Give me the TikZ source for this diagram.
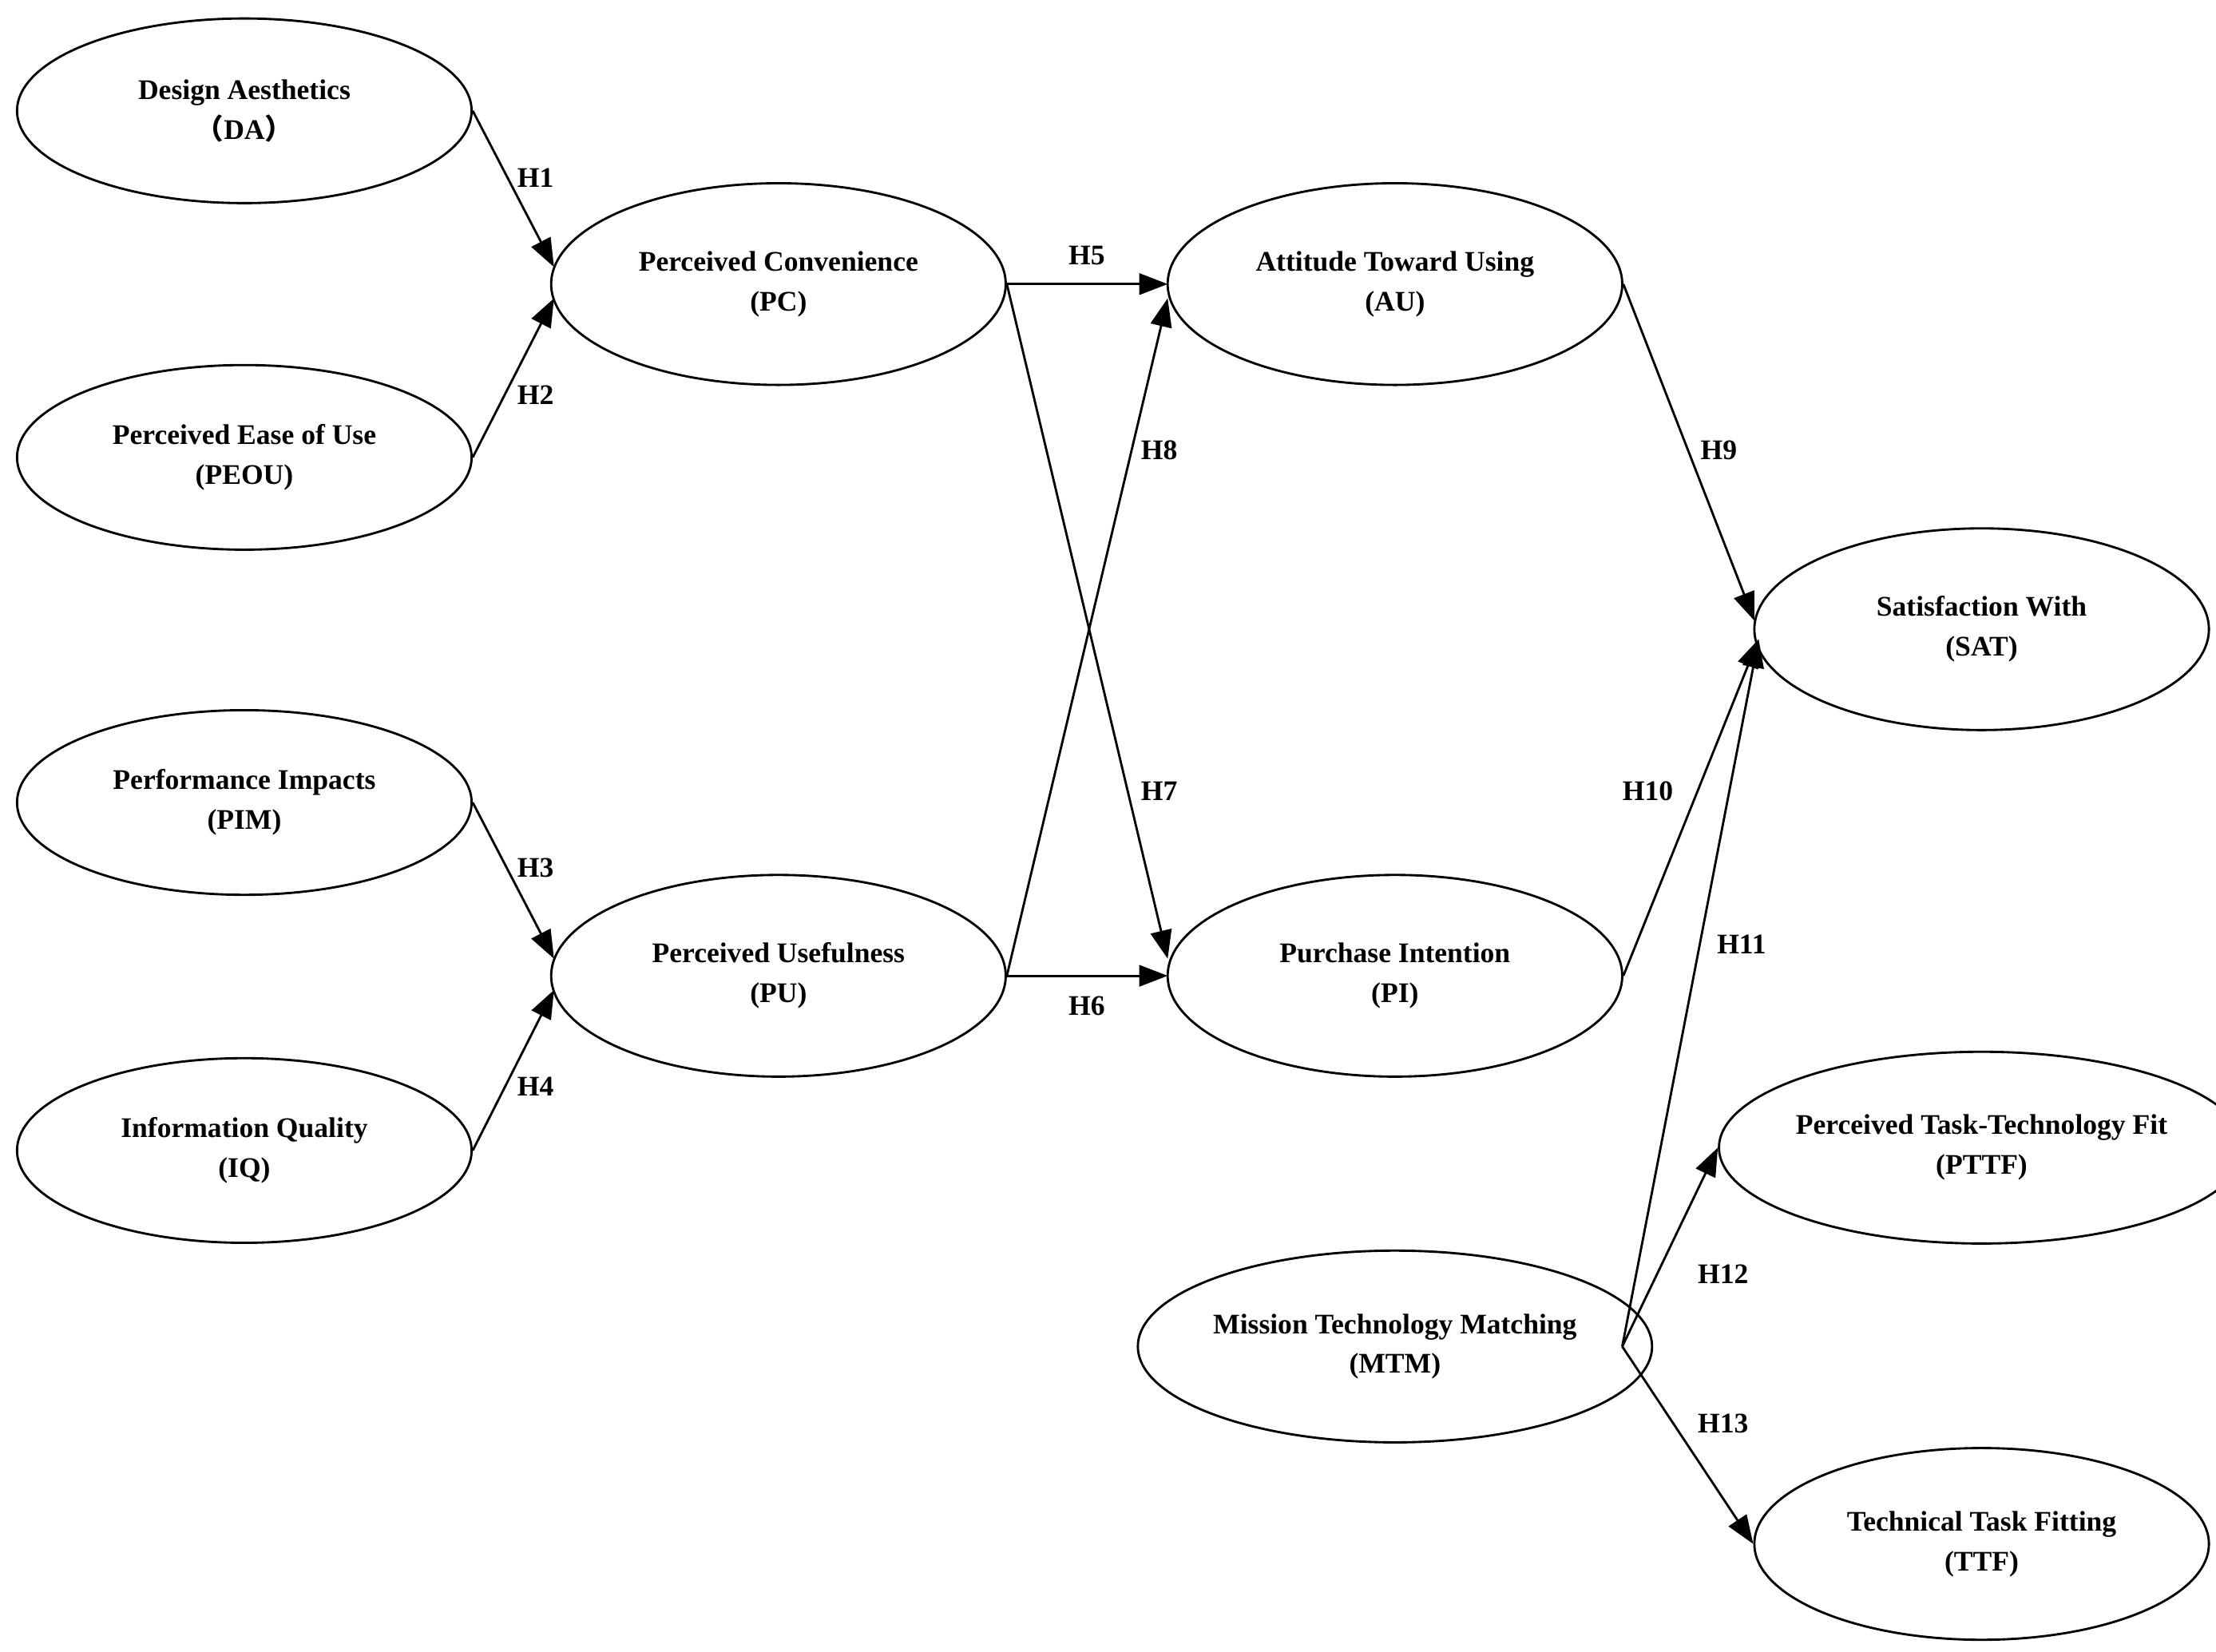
\documentclass[tikz,border=0pt]{standalone}
\usepackage{fontspec}
\setmainfont{Liberation Serif}
\newfontfamily\cjk{Noto Sans CJK SC}
\usetikzlibrary{shapes.geometric,arrows.meta}
\begin{document}
\begin{tikzpicture}[x=1pt,y=-1pt,
 e/.style={ellipse,draw,line width=1.6pt,minimum width=320pt,minimum height=130pt,align=center,font=\fontsize{20}{28}\selectfont\bfseries,inner sep=0pt},
 a/.style={line width=1.6pt,-{Triangle[length=20pt,width=15pt]}},
 l/.style={font=\fontsize{20}{24}\selectfont\bfseries}]
\useasboundingbox (0,0) rectangle (1560,1163);
\node[e] (da) at (172,78) {Design Aesthetics\\{\cjk （}DA{\cjk ）}};
\node[e] (peou) at (172,322) {Perceived Ease of Use\\(PEOU)};
\node[e] (pim) at (172,565) {Performance Impacts\\(PIM)};
\node[e] (iq) at (172,810) {Information Quality\\(IQ)};
\node[e,minimum height=142pt] (pc) at (548,200) {Perceived Convenience\\(PC)};
\node[e,minimum height=142pt] (pu) at (548,687) {Perceived Usefulness\\(PU)};
\node[e,minimum height=142pt] (au) at (982,200) {Attitude Toward Using\\(AU)};
\node[e,minimum height=142pt] (pi) at (982,687) {Purchase Intention\\(PI)};
\node[e,minimum height=142pt] (sat) at (1395,443) {Satisfaction With\\(SAT)};
\node[e,minimum height=135pt] (pttf) at (1395,808) {Perceived Task-Technology Fit\\(PTTF)};
\node[e,minimum height=135pt] (mtm) at (982,948) {Mission Technology Matching\\(MTM)};
\node[e,minimum height=135pt] (ttf) at (1395,1087) {Technical Task Fitting\\(TTF)};
\coordinate (pc1) at (390,188); \coordinate (pc2) at (390,210);
\coordinate (pu1) at (390,675); \coordinate (pu2) at (390,697);
\coordinate (au1) at (822,200); \coordinate (au2) at (822,210);
\coordinate (pi1) at (822,687); \coordinate (pi2) at (822,675);
\coordinate (s1) at (1235,437); \coordinate (s2) at (1238,450);
\coordinate (m0) at (1142,948);
\draw[a] (da.east) -- (pc1);
\draw[a] (peou.east) -- (pc2);
\draw[a] (pim.east) -- (pu1);
\draw[a] (iq.east) -- (pu2);
\draw[a] (pc.east) -- (au1);
\draw[a] (pc.east) -- (pi2);
\draw[a] (pu.east) -- (au2);
\draw[a] (pu.east) -- (pi1);
\draw[a] (au.east) -- (s1);
\draw[a] (pi.east) -- (s2);
\draw[a] (m0) -- (s2);
\draw[a] (m0) -- (pttf.west);
\draw[a] (m0) -- (ttf.west);
\node[l] (h1) at (377,125) {H1};
\node[l] (h2) at (377,278) {H2};
\node[l] (h3) at (377,611) {H3};
\node[l] (h4) at (377,765) {H4};
\node[l] (h5) at (765,180) {H5};
\node[l] (h6) at (765,708) {H6};
\node[l] (h7) at (816,557) {H7};
\node[l] (h8) at (816,317) {H8};
\node[l] (h9) at (1210,317) {H9};
\node[l] (h10) at (1160,557) {H10};
\node[l] (h11) at (1226,665) {H11};
\node[l] (h12) at (1213,897) {H12};
\node[l] (h13) at (1213,1002) {H13};
\end{tikzpicture}
\end{document}
